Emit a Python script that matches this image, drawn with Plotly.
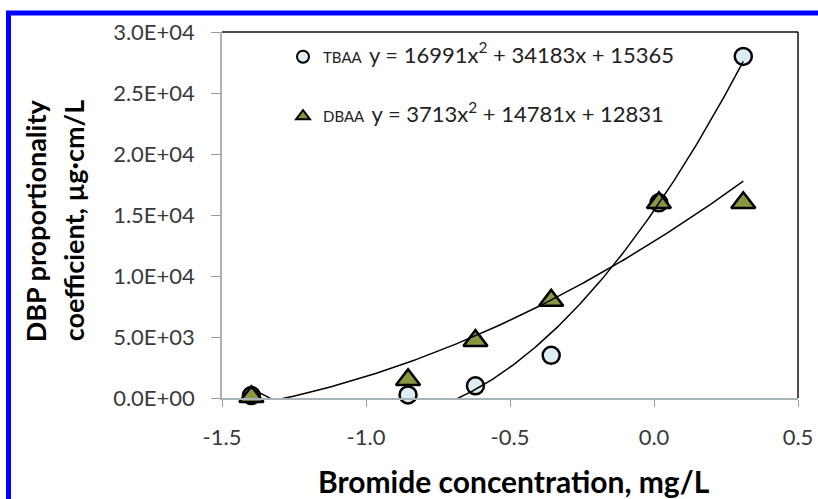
import numpy as np
import plotly.graph_objects as go

# ---- data ----
tbaa_x = [-1.398, -0.854, -0.620, -0.357, 0.017, 0.310]
tbaa_y = [200, 250, 1000, 3500, 16000, 28000]
dbaa_x = [-1.398, -0.854, -0.620, -0.357, 0.017, 0.310]
dbaa_y = [100, 1500, 4700, 8000, 16000, 16000]
tbaa_coef = [16991, 34183, 15365]   # displayed trendline y = a x^2 + b x + c
dbaa_coef = [3713, 14781, 12831]

x_ticks = [-1.5, -1.0, -0.5, 0.0, 0.5]
x_ticktext = ["-1.5", "-1.0", "-0.5", "0.0", "0.5"]
y_ticks = [0, 5000, 10000, 15000, 20000, 25000, 30000]
y_ticktext = ["0.0E+00", "5.0E+03", "1.0E+04", "1.5E+04", "2.0E+04", "2.5E+04", "3.0E+04"]

FONT = "Lato"
W, H = 818, 499
L, R, T, B = 222, 20, 31.5, 101
pw, ph = W - L - R, H - T - B

def px2paper_x(px):
    return (px - L) / pw

def px2paper_y(py):
    return (H - B - py) / ph

def trend(coef, xs):
    xx = np.linspace(min(xs), max(xs), 300)
    return xx, np.polyval(coef, xx)

fig = go.Figure()

fig.add_trace(go.Scatter(
    x=tbaa_x, y=tbaa_y, mode="markers", cliponaxis=False,
    name="TBAA&nbsp;&nbsp;<span style='font-size:22px'>y = 16991x<sup>2</sup> + 34183x + 15365</span>",
    legendgroup="a",
    marker=dict(symbol="circle", size=17, color="#dcedf3",
                line=dict(color="#000000", width=2.5)),
))
fig.add_trace(go.Scatter(
    x=dbaa_x, y=dbaa_y, mode="markers", cliponaxis=False,
    name="DBAA&nbsp;&nbsp;<span style='font-size:22px'>y = 3713x<sup>2</sup> + 14781x + 12831</span>",
    legendgroup="b",
    marker=dict(symbol="triangle-up", size=21, color="#8a9640",
                line=dict(color="#000000", width=2.5)),
))

for coef, xs in ((tbaa_coef, tbaa_x), (dbaa_coef, dbaa_x)):
    xx, yy = trend(coef, xs)
    fig.add_trace(go.Scatter(x=xx, y=yy, mode="lines", showlegend=False,
                             line=dict(color="#000000", width=1.5)))

axis_common = dict(
    showgrid=False, zeroline=False, ticks="outside",
    tickcolor="#9a9a9a", showline=True, linecolor="#a8b4b8", linewidth=1.5,
    tickfont=dict(family=FONT, size=22, color="#3a3a3a"),
    automargin=False,
)

fig.update_layout(
    width=W, height=H,
    margin=dict(l=L, r=R, t=T, b=B, pad=0),
    paper_bgcolor="white", plot_bgcolor="white",
    font=dict(family=FONT),
    showlegend=True,
    legend=dict(
        x=px2paper_x(283), y=px2paper_y(40), xanchor="left", yanchor="top",
        bgcolor="rgba(0,0,0,0)", tracegroupgap=37,
        font=dict(family=FONT, size=15, color="#222222"),
        itemsizing="constant",
    ),
    xaxis=dict(range=[-1.5, 0.5], tickvals=x_ticks, ticktext=x_ticktext,
               ticklen=7, ticklabelstandoff=12, **axis_common),
    yaxis=dict(range=[0, 30000], tickvals=y_ticks, ticktext=y_ticktext,
               ticklen=9, ticklabelstandoff=12, **axis_common),
)

# top and right black border of plot area
fig.add_shape(type="line", xref="paper", yref="paper", x0=0, x1=1, y0=1, y1=1,
              line=dict(color="#111111", width=1.5))
fig.add_shape(type="line", xref="paper", yref="paper", x0=1, x1=1, y0=0, y1=1,
              line=dict(color="#111111", width=1.5))

# blue frame (top and left visible)
fig.add_shape(type="rect", xref="paper", yref="paper",
              x0=px2paper_x(8.5), x1=px2paper_x(W + 20),
              y0=px2paper_y(H + 20), y1=px2paper_y(12.5),
              line=dict(color="#0000ff", width=5), fillcolor="rgba(0,0,0,0)")

# axis titles
fig.add_annotation(text="<b>DBP proportionality</b>", xref="paper", yref="paper",
                   x=px2paper_x(35), y=px2paper_y(221), textangle=-90,
                   showarrow=False, xanchor="center", yanchor="middle",
                   font=dict(family=FONT, size=27, color="#000000"))
fig.add_annotation(text="<b>coefficient, µg·cm/L</b>", xref="paper", yref="paper",
                   x=px2paper_x(73), y=px2paper_y(221), textangle=-90,
                   showarrow=False, xanchor="center", yanchor="middle",
                   font=dict(family=FONT, size=27, color="#000000"))
fig.add_annotation(text="<b>Bromide concentration, mg/L</b>", xref="paper", yref="paper",
                   x=px2paper_x(514), y=px2paper_y(481),
                   showarrow=False, xanchor="center", yanchor="middle",
                   font=dict(family=FONT, size=30, color="#000000"))

fig.write_html("out.html")
